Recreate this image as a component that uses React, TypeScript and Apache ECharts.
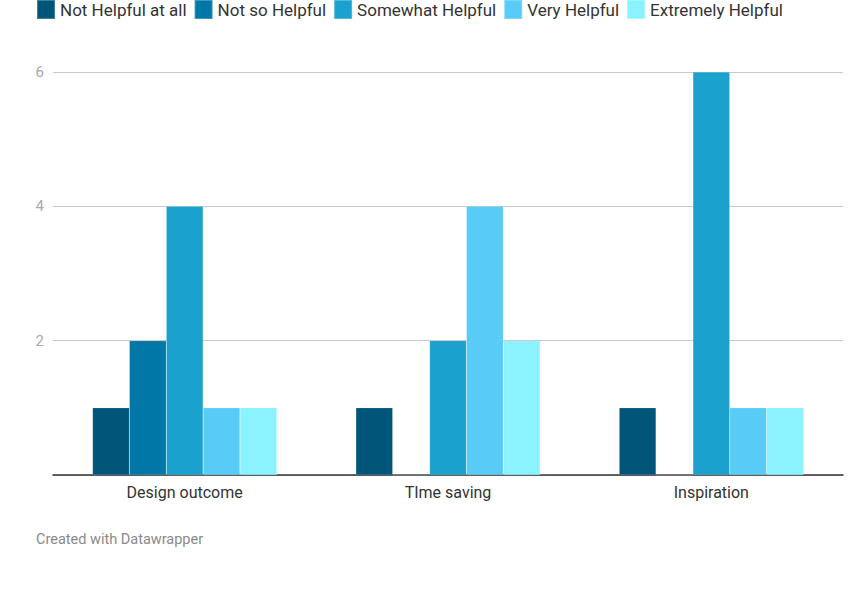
import React, { useEffect, useRef } from "react";
import * as echarts from "echarts";

const categories = ["Design outcome", "TIme saving", "Inspiration"];
const seriesNames = ["Not Helpful at all", "Not so Helpful", "Somewhat Helpful", "Very Helpful", "Extremely Helpful"];
const notHelpful = [1, 1, 1];
const notSoHelpful = [2, 0, 0];
const somewhatHelpful = [4, 2, 6];
const veryHelpful = [1, 4, 1];
const extremelyHelpful = [1, 2, 1];
const colors = ["#005579", "#0077a6", "#1aa1ce", "#58cbf6", "#8af3ff"];

export default function App() {
  const ref = useRef<HTMLDivElement>(null);
  useEffect(() => {
    if (!ref.current) return;
    const chart = echarts.init(ref.current, null, { renderer: "svg" });
    const values = [notHelpful, notSoHelpful, somewhatHelpful, veryHelpful, extremelyHelpful];
    chart.setOption({
      animation: false,
      textStyle: { fontFamily: "Roboto" },
      legend: {
        left: 36,
        top: -1,
        padding: 0,
        itemWidth: 18,
        itemHeight: 19,
        itemGap: 7,
        icon: "rect",
        textStyle: { fontSize: 17, color: "#333", fontFamily: "Roboto" },
        data: seriesNames,
      },
      graphic: [
        {
          type: "text",
          left: 36,
          top: 532,
          style: { text: "Created with Datawrapper", fill: "#8a8a8a", fontSize: 14.5, fontFamily: "Roboto" },
        },
      ],
      grid: { left: 53, right: 24, top: 72, bottom: 123, containLabel: false },
      xAxis: {
        type: "category",
        data: categories,
        axisLine: { lineStyle: { color: "#333", width: 1.5 } },
        axisTick: { show: false },
        axisLabel: { color: "#333", fontSize: 16, margin: 9, fontFamily: "Roboto" },
      },
      yAxis: {
        type: "value",
        min: 0,
        max: 6,
        interval: 2,
        axisLine: { show: false },
        axisTick: { show: false },
        splitLine: { lineStyle: { color: "#c8c8c8", width: 1 } },
        axisLabel: { color: "#aaa", fontSize: 15, margin: 9, showMinLabel: false, fontFamily: "Roboto" },
      },
      series: seriesNames.map((name, i) => ({
        name,
        type: "bar",
        data: values[i],
        barGap: "0%",
        barCategoryGap: "30%",
        itemStyle: { color: colors[i], borderColor: "rgba(255,255,255,0.25)", borderWidth: 0.5 },
      })),
    });
    return () => chart.dispose();
  }, []);
  return <div ref={ref} style={{ width: 867, height: 598, position: "absolute", left: 0, top: 0 }} />;
}
